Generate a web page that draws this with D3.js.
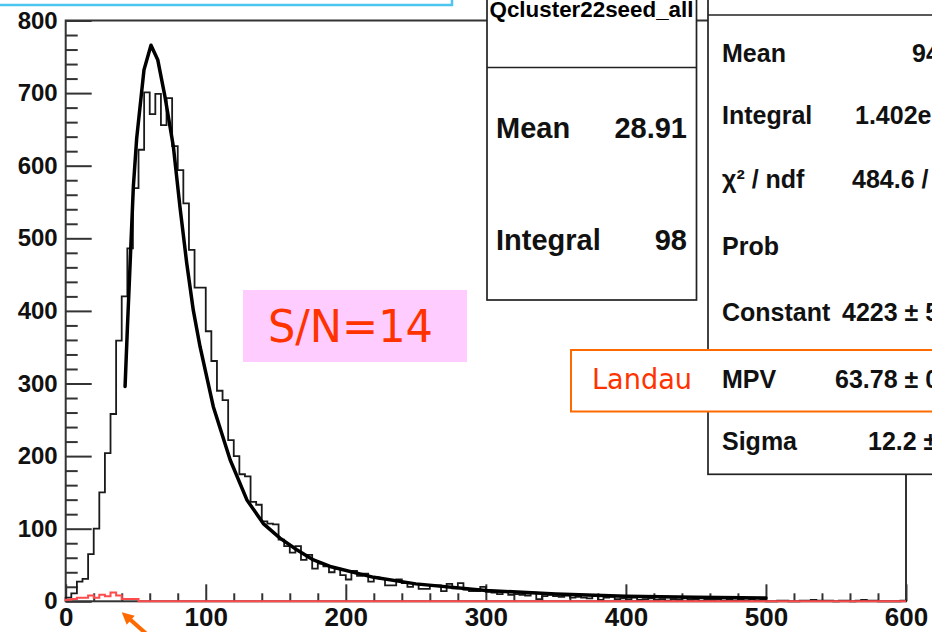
<!DOCTYPE html>
<html lang="en">
<head>
    <meta charset="utf-8">
    <script src="https://d3js.org/d3.v7.min.js"></script>
    <style>
        body { margin: 0; background: #fff; }
        svg { display: block; }
    </style>
</head>
<body>
<script>
    // cluster charge histogram, 4 units per bin from 0 to 600
    const binWidth = 4;
    const counts = [
        5, 11, 27, 31, 65, 100, 150, 204, 258, 359,
        420, 486, 569, 622, 701, 671, 699, 656, 693, 627,
        594, 548, 484, 432, 432, 372, 331, 290, 277, 222,
        200, 175, 172, 137, 133, 110, 107, 106, 85, 76,
        67, 76, 57, 64, 45, 52, 48, 40, 45, 36,
        30, 42, 35, 38, 27, 33, 31, 22, 22, 30,
        25, 20, 24, 17, 17, 22, 22, 14, 24, 18,
        25, 16, 14, 14, 20, 13, 12, 10, 13, 9,
        10, 9, 8, 12, 3, 7, 9, 7, 6, 8,
        5, 6, 5, 4, 7, 2, 5, 6, 3, 4,
        3, 5, 2, 3, 4, 2, 3, 1, 3, 2,
        4, 2, 3, 1, 2, 2, 3, 1, 2, 1,
        2, 1, 3, 1, 2, 0, 0, 1, 1, 0,
        0, 1, 1, 2, 1, 1, 1, 0, 1, 1,
        0, 1, 2, 1, 1, 0, 0, 0, 0, 1
    ];
    // red histogram (noise), the rest of its bins are empty
    const noiseCounts = [2, 3, 5, 5, 8, 5, 9, 7, 12, 8, 3, 3, 3];

    // Landau fit, points
    const fitX = [42.4, 44, 48.3, 50.7, 55.9, 60.9, 65.7, 70.9, 76.9, 81.6, 86.4, 91.1, 95.9,
        105.4, 117.4, 129.3, 141.1, 153, 165, 176.9, 188.8, 220, 250, 300, 350, 400, 450, 500];
    const fitY = [296, 374, 571, 638, 732, 766, 746, 695, 626, 543, 466, 401, 351,
        268, 195, 140, 107, 87, 71, 57, 48, 33, 24, 15, 10, 7, 5.5, 4.5];

    const xTicks = [0, 100, 200, 300, 400, 500, 600];
    const yTicks = [0, 100, 200, 300, 400, 500, 600, 700, 800];

    // stat boxes
    const histName = "Qcluster22seed_all";
    const noiseLabels = ["Mean", "Integral"];
    const noiseValues = ["28.91", "98"];
    const fitLabels = ["Mean", "Integral", "\u03c7\u00b2 / ndf", "Prob", "Constant", "MPV", "Sigma"];
    const fitValues = ["94", "1.402e", "484.6 /", "", "4223 \u00b1 5", "63.78 \u00b1 0", "12.2 \u00b1"];

    const W = 932, H = 632;
    const svg = d3.select("body").append("svg").attr("width", W).attr("height", H);
    svg.append("rect").attr("width", W).attr("height", H).attr("fill", "#fff");

    const x = d3.scaleLinear().domain([0, 600]).range([65.7, 906]);
    const y = d3.scaleLinear().domain([0, 800]).range([601.3, 20.5]);

    const font = "'Liberation Sans', Arial, Helvetica, sans-serif";
    const comic = "'Comic Sans MS', 'DejaVu Sans', sans-serif";

    // frame
    svg.append("rect")
        .attr("x", x(0)).attr("y", y(800))
        .attr("width", x(600) - x(0)).attr("height", y(0) - y(800))
        .attr("fill", "none").attr("stroke", "#333").attr("stroke-width", 2);

    function styleAxis(g, size) {
        g.select(".domain").remove();
        g.selectAll(".tick line").attr("stroke", "#333").attr("stroke-width", 2);
        g.selectAll(".tick text")
            .attr("fill", "#111")
            .style("font-family", font)
            .style("font-weight", "bold")
            .style("font-size", size + "px");
    }

    // y axis, ticks point into the frame
    svg.append("g").attr("transform", `translate(${x(0)},0)`)
        .call(d3.axisLeft(y).tickValues(d3.range(0, 801, 20).filter(d => d % 100)).tickSize(-12).tickFormat(""))
        .call(g => styleAxis(g, 24));
    svg.append("g").attr("transform", `translate(${x(0)},0)`)
        .call(d3.axisLeft(y).tickValues(yTicks).tickSize(-26).tickPadding(8).tickFormat(d3.format("d")))
        .call(g => styleAxis(g, 24));

    // x axis
    svg.append("g").attr("transform", `translate(0,${y(0)})`)
        .call(d3.axisBottom(x).tickValues(d3.range(0, 601, 20).filter(d => d % 100)).tickSize(-8).tickFormat(""))
        .call(g => styleAxis(g, 26));
    svg.append("g").attr("transform", `translate(0,${y(0)})`)
        .call(d3.axisBottom(x).tickValues(xTicks).tickSize(-17).tickPadding(6).tickFormat(d3.format("d")))
        .call(g => styleAxis(g, 26));

    // histograms as step outlines
    const step = d3.line().x(d => x(d[0])).y(d => y(d[1])).curve(d3.curveStepAfter);
    function outline(vals) {
        const pts = [[0, 0]];
        vals.forEach((c, i) => pts.push([i * binWidth, c]));
        pts.push([vals.length * binWidth, vals[vals.length - 1]]);
        pts.push([vals.length * binWidth, 0]);
        return pts;
    }

    svg.append("path").attr("d", step(outline(counts)))
        .attr("fill", "none").attr("stroke", "#1a1a1a").attr("stroke-width", 1.8);

    const noiseAll = counts.map((c, i) => i < noiseCounts.length ? noiseCounts[i] : 0);
    svg.append("path").attr("d", step(outline(noiseAll)))
        .attr("fill", "none").attr("stroke", "#ff4b4b").attr("stroke-width", 2);

    // fit curve
    const fitLine = d3.line().x(d => x(d[0])).y(d => y(d[1])).curve(d3.curveLinear);
    svg.append("path").attr("d", fitLine(fitX.map((u, i) => [u, fitY[i]])))
        .attr("fill", "none").attr("stroke", "#000").attr("stroke-width", 3.5)
        .attr("stroke-linejoin", "round").attr("stroke-linecap", "round");

    // cyan title box cut by the top edge
    svg.append("rect").attr("x", -10).attr("y", -60).attr("width", 462).attr("height", 65)
        .attr("fill", "#fff").attr("stroke", "#4cc6f0").attr("stroke-width", 2.5);

    // stat box of the red histogram
    svg.append("rect").attr("x", 487).attr("y", -40).attr("width", 209.5).attr("height", 340)
        .attr("fill", "#fff").attr("stroke", "#222").attr("stroke-width", 1.7);
    svg.append("line").attr("x1", 487).attr("x2", 696.5).attr("y1", 67.5).attr("y2", 67.5)
        .attr("stroke", "#222").attr("stroke-width", 1.7);
    svg.append("text").attr("x", 591.5).attr("y", 17).attr("text-anchor", "middle")
        .attr("textLength", 204).attr("lengthAdjust", "spacingAndGlyphs")
        .style("font-family", font).style("font-weight", "bold").style("font-size", "22px")
        .text(histName);
    const rows1 = [138, 250];
    noiseLabels.forEach((l, i) => {
        svg.append("text").attr("x", 496).attr("y", rows1[i])
            .style("font-family", font).style("font-weight", "bold").style("font-size", "29px")
            .attr("fill", "#111").text(l);
        svg.append("text").attr("x", 687).attr("y", rows1[i]).attr("text-anchor", "end")
            .style("font-family", font).style("font-weight", "bold").style("font-size", "29px")
            .attr("fill", "#111").text(noiseValues[i]);
    });

    // stat box of the fit, cut by the right edge
    svg.append("rect").attr("x", 708).attr("y", -40).attr("width", 300).attr("height", 514.3)
        .attr("fill", "#fff").attr("stroke", "#222").attr("stroke-width", 1.7);
    svg.append("line").attr("x1", 708).attr("x2", 940).attr("y1", 15).attr("y2", 15)
        .attr("stroke", "#222").attr("stroke-width", 1.7);

    // Landau label box
    svg.append("rect").attr("x", 571).attr("y", 350).attr("width", 400).attr("height", 61.5)
        .attr("fill", "#fff").attr("stroke", "#ff6a00").attr("stroke-width", 2);
    svg.append("text").attr("x", 592).attr("y", 389)
        .attr("textLength", 100).attr("lengthAdjust", "spacingAndGlyphs")
        .style("font-family", comic).style("font-size", "29px").attr("fill", "#ff3300")
        .text("Landau");

    const rows2 = [62, 124, 188, 255, 321, 388, 450];
    const valX = [912, 855, 852, 0, 842, 835, 868];
    fitLabels.forEach((l, i) => {
        svg.append("text").attr("x", 722).attr("y", rows2[i])
            .style("font-family", font).style("font-weight", "bold").style("font-size", "25px")
            .attr("fill", "#111").text(l);
        if (fitValues[i]) {
            svg.append("text").attr("x", valX[i]).attr("y", rows2[i])
                .style("font-family", font).style("font-weight", "bold").style("font-size", "25px")
                .attr("fill", "#111").text(fitValues[i]);
        }
    });

    // S/N annotation
    svg.append("rect").attr("x", 243).attr("y", 290).attr("width", 224).attr("height", 72)
        .attr("fill", "#ffccff");
    svg.append("text").attr("x", 268).attr("y", 342)
        .attr("textLength", 165).attr("lengthAdjust", "spacingAndGlyphs")
        .style("font-family", comic).style("font-size", "44px").attr("fill", "#ff3300")
        .text("S/N=14");

    // orange arrow pointing at the noise histogram
    const tipX = x(40), tipY = y(0) + 11;
    svg.append("line").attr("x1", tipX + 24).attr("y1", tipY + 21)
        .attr("x2", tipX + 7).attr("y2", tipY + 6)
        .attr("stroke", "#ff6a00").attr("stroke-width", 4);
    svg.append("path")
        .attr("d", `M${tipX},${tipY} L${tipX + 13},${tipY + 3.5} L${tipX + 5},${tipY + 12.5} Z`)
        .attr("fill", "#ff6a00");
</script>
</body>
</html>
